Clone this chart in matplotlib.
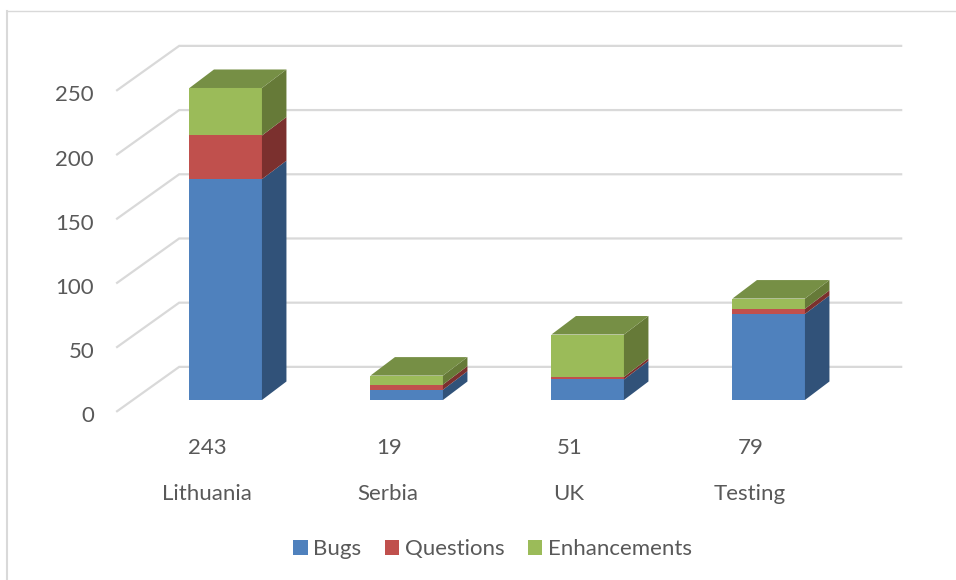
"""Stacked pseudo-3D column chart of issues per country"""
import matplotlib
matplotlib.use("Agg")
import matplotlib.pyplot as plt
from matplotlib.patches import Polygon, Patch

plt.rcParams["font.family"] = ["Lato", "DejaVu Sans"]
plt.rcParams["font.size"] = 16
TXT = "#595959"
GRID = "#D9D9D9"
FRAME = "#D9D9D9"

categories = ["Lithuania", "Serbia", "UK", "Testing"]
totals = [243, 19, 51, 79]
bugs = [172, 8, 16, 67]
questions = [34, 4, 2, 4]
enhancements = [37, 7, 33, 8]
y_ticks = [0, 50, 100, 150, 200, 250]

series = [("Bugs", bugs, "#4F81BD", "#315279"),
          ("Questions", questions, "#C0504D", "#7B302E"),
          ("Enhancements", enhancements, "#9BBB59", "#667A38")]
TOP = "#768F45"

W, H = 956, 580
PX_CAT, PX_VAL = 181.0, 1.284   # pixels per category / per value unit
X0, Y0 = 225.7, 400.0           # pixel of first bar centre / of value 0

fig = plt.figure(figsize=(W / 100, H / 100), dpi=100)
ax = fig.add_axes([0, 0, 1, 1])
ax.set_xlim(-X0 / PX_CAT, (W - X0) / PX_CAT)
ax.set_ylim((Y0 - H) / PX_VAL, Y0 / PX_VAL)
ax.axis("off")

# depth of the bars and of the floor, in data units
bar_w = 72.5 / PX_CAT
dx, dy = 24.5 / PX_CAT, 18.5 / PX_VAL
wall_left, wall_right = -0.257, 3.738
floor_dx, floor_dy = 63 / PX_CAT, 45 / PX_VAL
wall_base = 25.8

for v in y_ticks:
    y = wall_base + v
    ax.plot([wall_left - floor_dx, wall_left, wall_right],
            [y - floor_dy, y, y], color=GRID, lw=1.6, zorder=1,
            solid_joinstyle="miter", solid_capstyle="butt")
    ax.text(-0.727, y - floor_dy - 3.5, str(v), ha="right", va="center", color=TXT)

# stacked bars: front from ax.bar, side and top as polygons
for i in range(len(categories)):
    bottom = 0
    x1 = i + bar_w / 2
    for name, vals, col, dark in series:
        top = bottom + vals[i]
        ax.bar(i, vals[i], bottom=bottom, width=bar_w, color=col, lw=0, zorder=3)
        ax.add_patch(Polygon([(x1, bottom), (x1 + dx, bottom + dy), (x1 + dx, top + dy), (x1, top)],
                             closed=True, fc=dark, lw=0, zorder=3))
        bottom = top
    x0 = i - bar_w / 2
    ax.add_patch(Polygon([(x0, bottom), (x0 + dx, bottom + dy), (x1 + dx, bottom + dy), (x1, bottom)],
                         closed=True, fc=TOP, lw=0, zorder=3))
    ax.text(i - 0.1, -37.5, str(totals[i]), ha="center", va="center", color=TXT)
    ax.text(i - 0.105, -73, categories[i], ha="center", va="center", color=TXT)

handles = [Patch(fc=s[2], lw=0) for s in series]
ax.legend(handles, [s[0] for s in series], loc="center", ncol=3, frameon=False,
          bbox_to_anchor=(492.5 / W, 1 - 549 / H), bbox_transform=fig.transFigure,
          labelcolor=TXT, handlelength=0.64, handleheight=0.64, handletextpad=0.24,
          columnspacing=1.08, borderpad=0)

# chart frame, only top and left are in the crop
fig.add_artist(plt.Line2D([7 / W, 7 / W], [0, 1 - 11 / H], color=FRAME, lw=1.5))
fig.add_artist(plt.Line2D([7 / W, 1], [1 - 11 / H, 1 - 11 / H], color=FRAME, lw=1.0))

fig.savefig("out.png", dpi=100)
plt.close()
